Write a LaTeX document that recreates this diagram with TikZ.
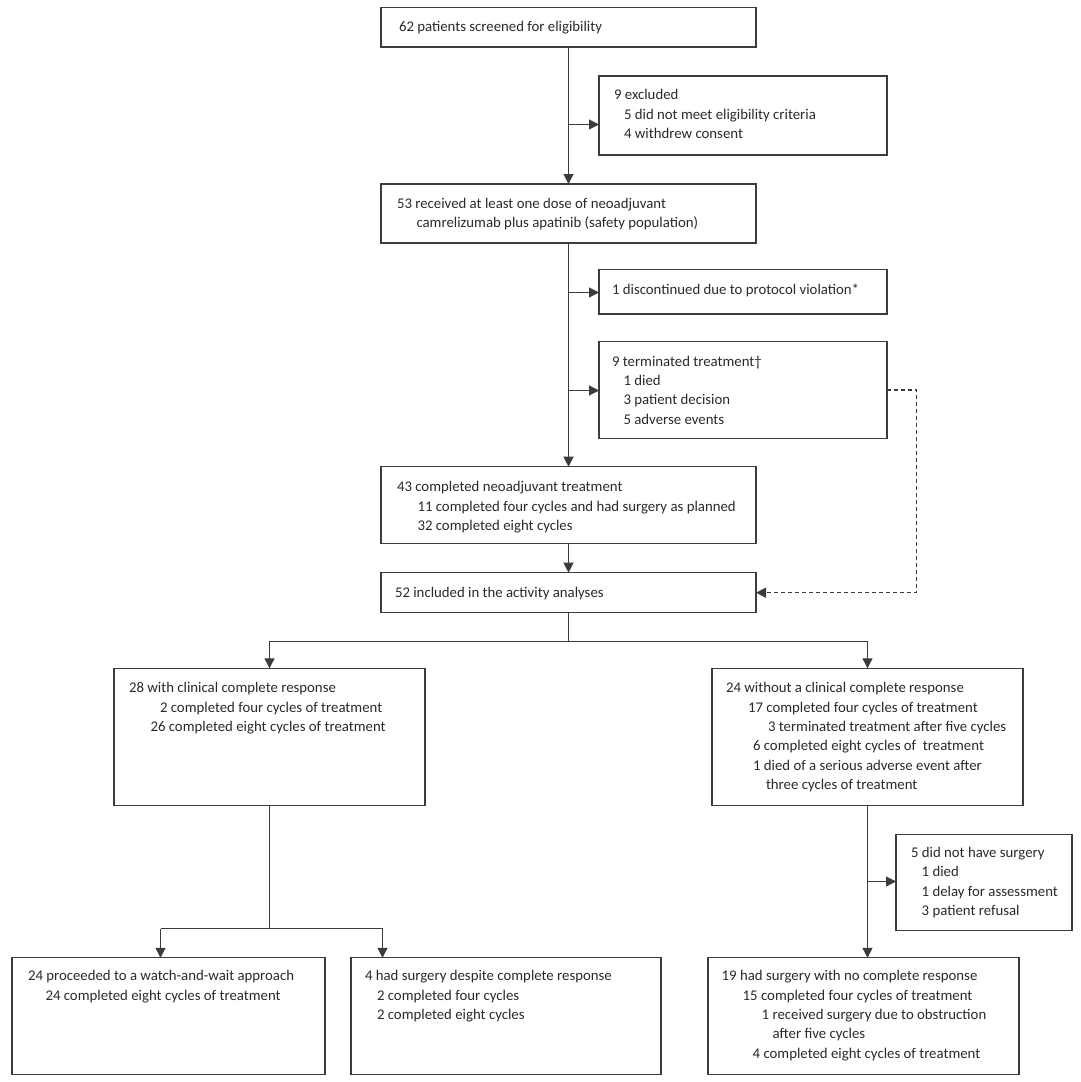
\documentclass[tikz,border=0pt]{standalone}
\usepackage{fontspec}
\setmainfont{Carlito}
\usetikzlibrary{arrows.meta}
\definecolor{ink}{HTML}{2A2A2A}
\definecolor{rule}{HTML}{3C3C3C}
\newcommand\txtline[2]{\hbox{\kern#1pt #2}}
\begin{document}
\begin{tikzpicture}[x=1pt,y=-1pt,
  box/.style={draw=rule, line width=1.1pt, rectangle, inner sep=0pt, outer sep=0pt},
  txt/.style={anchor=base west, inner sep=0pt, outer sep=0pt, text=ink,
    font=\fontsize{14.8pt}{19.4pt}\selectfont},
  conn/.style={draw=rule, line width=1.1pt},
  arr/.style={conn, -{Triangle[length=10pt,width=10pt]}},
  dashconn/.style={draw=rule, line width=1.1pt, dash pattern=on 4pt off 3pt, -{Triangle[length=10pt,width=10pt]}}]
\useasboundingbox (0,0) rectangle (1080,1082);
\fill[white] (0,0) rectangle (1080,1082);

% boxes
\node[box, minimum width=375pt, minimum height=39.5pt, anchor=north west] (b1) at (381,7.5) {};
\node[box, minimum width=288pt, minimum height=79pt, anchor=north west] (exc) at (599,76) {};
\node[box, minimum width=375pt, minimum height=59pt, anchor=north west] (b53) at (381,184) {};
\node[box, minimum width=288pt, minimum height=44.5pt, anchor=north west] (disc) at (599,269.5) {};
\node[box, minimum width=288pt, minimum height=96.5pt, anchor=north west] (term) at (599,341.7) {};
\node[box, minimum width=375pt, minimum height=76.5pt, anchor=north west] (b43) at (381,466.7) {};
\node[box, minimum width=375pt, minimum height=40pt, anchor=north west] (b52) at (381,572.7) {};
\node[box, minimum width=311pt, minimum height=137.5pt, anchor=north west] (b28) at (114,668.3) {};
\node[box, minimum width=311pt, minimum height=137.5pt, anchor=north west] (b24) at (712,668.3) {};
\node[box, minimum width=176pt, minimum height=96pt, anchor=north west] (b5) at (896,834.3) {};
\node[box, minimum width=313pt, minimum height=117pt, anchor=north west] (bw) at (12,957.8) {};
\node[box, minimum width=310pt, minimum height=117pt, anchor=north west] (bs) at (351,957.8) {};
\node[box, minimum width=311pt, minimum height=116.5pt, anchor=north west] (b19) at (708,957.8) {};

% texts
\node[txt] (t1) at (399,31.7) {62 patients screened for eligibility};
\node[txt] (texc) at (614,99.7) {\vtop{\txtline{0}{9 excluded}\txtline{10}{5 did not meet eligibility criteria}\txtline{10}{4 withdrew consent}}};
\node[txt] (t53) at (397,208) {\vtop{\txtline{0}{53 received at least one dose of neoadjuvant}\txtline{19.5}{camrelizumab plus apatinib (safety population)}}};
\node[txt] (tdisc) at (612,294.3) {1 discontinued due to protocol violation*};
\node[txt] (tterm) at (612,366) {\vtop{\txtline{0}{9 terminated treatment†}\txtline{11.5}{1 died}\txtline{11.5}{3 patient decision}\txtline{11.5}{5 adverse events}}};
\node[txt] (t43) at (397,491.7) {\vtop{\txtline{0}{43 completed neoadjuvant treatment}\txtline{20.5}{11 completed four cycles and had surgery as planned}\txtline{20.5}{32 completed eight cycles}}};
\node[txt] (t52) at (395,597.3) {52 included in the activity analyses};
\node[txt] (t28) at (129,692.7) {\vtop{\txtline{0}{28 with clinical complete response}\txtline{31}{2 completed four cycles of treatment}\txtline{21.5}{26 completed eight cycles of treatment}}};
\node[txt] (t24) at (726,692.7) {\vtop{\txtline{0}{24 without a clinical complete response}\txtline{22}{17 completed four cycles of treatment}\txtline{42}{3 terminated treatment after five cycles}\txtline{27}{6 completed eight cycles of\ \ treatment}\txtline{27}{1 died of a serious adverse event after}\txtline{40}{three cycles of treatment}}};
\node[txt] (t5) at (911,857.3) {\vtop{\txtline{0}{5 did not have surgery}\txtline{10.7}{1 died}\txtline{10.7}{1 delay for assessment}\txtline{10.7}{3 patient refusal}}};
\node[txt] (tw) at (28,980.7) {\vtop{\txtline{0}{24 proceeded to a watch-and-wait approach}\txtline{17.5}{24 completed eight cycles of treatment}}};
\node[txt] (ts) at (365,980.7) {\vtop{\txtline{0}{4 had surgery despite complete response}\txtline{12}{2 completed four cycles}\txtline{12}{2 completed eight cycles}}};
\node[txt] (t19) at (721.7,980.7) {\vtop{\txtline{0}{19 had surgery with no complete response}\txtline{21}{15 completed four cycles of treatment}\txtline{40}{1 received surgery due to obstruction}\txtline{51}{after five cycles}\txtline{31}{4 completed eight cycles of treatment}}};

% junction coordinates
\coordinate (j1) at (568.5,124.5);
\coordinate (j2) at (568.5,292.5);
\coordinate (j3) at (568.5,390.5);
\coordinate (j4) at (568.5,641.5);
\coordinate (lw) at (160.5,928.5);
\coordinate (ls) at (382.5,928.5);
\coordinate (j6) at (867.5,881.5);
\coordinate (d1) at (916.5,0);

% connectors
\draw[arr] (b1.south) -- (b53.north);
\draw[arr] (j1) -- (j1 -| exc.west);
\draw[arr] (b53.south) -- (b43.north);
\draw[arr] (j2) -- (j2 -| disc.west);
\draw[arr] (j3) -- (j3 -| term.west);
\draw[arr] (b43.south) -- (b52.north);
\draw[dashconn] (term.east) -- (term.east -| d1) |- (b52.east);
\draw[conn] (b52.south) -- (j4);
\draw[arr] (j4) -| (b28.north);
\draw[arr] (j4) -| (b24.north);
\draw[conn] (b28.south) -- (b28.south |- lw);
\draw[conn] (lw) -- (ls);
\draw[arr] (lw) -- (lw |- bw.north);
\draw[arr] (ls) -- (ls |- bs.north);
\draw[arr] (b24.south) -- (b24.south |- b19.north);
\draw[arr] (j6) -- (j6 -| b5.west);
\end{tikzpicture}
\end{document}
